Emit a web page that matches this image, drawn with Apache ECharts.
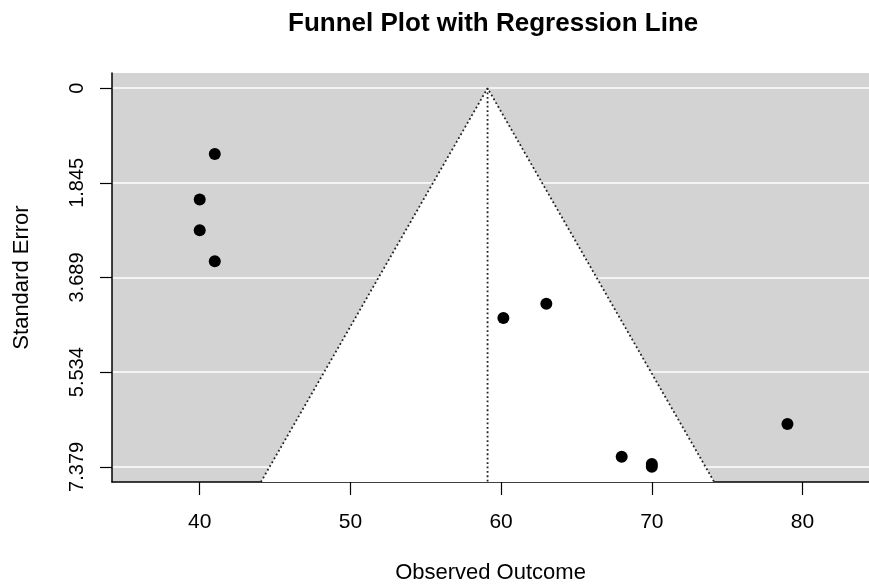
<!DOCTYPE html>
<html>
<head>
<meta charset="utf-8">
<title>Funnel Plot with Regression Line</title>
<script src="https://cdn.jsdelivr.net/npm/echarts@6/dist/echarts.min.js"></script>
<style>
  html, body { margin: 0; padding: 0; background: #fff; }
  #main { width: 869px; height: 588px; }
</style>
</head>
<body>
<div id="main"></div>
<script>
// observed outcomes and their standard errors
var yi  = [41, 40, 40, 41, 60.15, 63, 79, 68, 70, 70];
var sei = [1.283, 2.168, 2.768, 3.374, 4.48, 4.20, 6.544, 7.18, 7.325, 7.379];

// funnel: apex at the pooled estimate, edges at +/- 1.96 * se
var funnelX  = [44.06, 59.1, 74.14];
var funnelSE = [7.674, 0, 7.674];
var centerX  = [59.1, 59.1];
var centerSE = [0, 7.674];

// tick labels
var xTicks = [40, 50, 60, 70, 80];
var yTicks = [0, 1.845, 3.689, 5.534, 7.379];

var xMin = 34.18, xMax = 84.41;
var yMin = -0.295, yMax = 7.674;

var font = '"Liberation Sans", Arial, Helvetica, sans-serif';

var points = yi.map(function (v, i) { return [v, sei[i]]; });
var funnel = funnelX.map(function (v, i) { return [v, funnelSE[i]]; });
var center = centerX.map(function (v, i) { return [v, centerSE[i]]; });

var myChart = echarts.init(document.getElementById('main'));
myChart.setOption({
    animation: false,
    backgroundColor: '#ffffff',
    title: {
        text: 'Funnel Plot with Regression Line',
        left: 283,
        top: 6,
        textStyle: { fontFamily: font, fontSize: 26, fontWeight: 'bold', color: '#000' }
    },
    grid: {
        left: 112, right: 0, top: 73, bottom: 106,
        outerBoundsMode: 'none',
        containLabel: false,
        show: true, backgroundColor: '#d3d3d3', borderWidth: 0
    },
    xAxis: {
        type: 'value',
        min: xMin, max: xMax,
        name: 'Observed Outcome',
        nameLocation: 'middle',
        nameGap: 80,
        nameTextStyle: { fontFamily: font, fontSize: 22, color: '#000' },
        axisLine: { show: true, onZero: false, lineStyle: { color: '#000', width: 1.5 } },
        axisTick: { show: true, length: 13, customValues: xTicks, lineStyle: { color: '#000', width: 1.2 } },
        axisLabel: { customValues: xTicks, margin: 30, fontFamily: font, fontSize: 21, color: '#000' },
        splitLine: { show: false }
    },
    yAxis: {
        type: 'value',
        inverse: true,
        min: yMin, max: yMax,
        name: 'Standard Error',
        nameLocation: 'middle',
        nameGap: 79,
        nameRotate: 90,
        nameTextStyle: { fontFamily: font, fontSize: 22, color: '#000' },
        axisLine: { show: true, onZero: false, lineStyle: { color: '#000', width: 1.5 } },
        axisTick: { show: true, length: 12, customValues: yTicks, lineStyle: { color: '#000', width: 1.2 } },
        axisLabel: {
            customValues: yTicks, rotate: 90, margin: 25,
            fontFamily: font, fontSize: 20, color: '#000',
            formatter: function (v) { return String(v); }
        },
        splitLine: { show: true, lineStyle: { color: '#ffffff', width: 1.5 } }
    },
    series: [
        {
            type: 'custom',
            z: 1,
            silent: true,
            data: [0],
            renderItem: function (params, api) {
                var pts = funnel.map(function (p) { return api.coord(p); });
                return {
                    type: 'polygon',
                    shape: { points: pts },
                    style: { fill: '#ffffff', stroke: null }
                };
            }
        },
        {
            type: 'line',
            z: 2,
            data: funnel,
            symbol: 'none',
            silent: true,
            lineStyle: { color: '#222', width: 1.8, type: [1.8, 2.6] }
        },
        {
            type: 'line',
            z: 2,
            data: center,
            symbol: 'none',
            silent: true,
            lineStyle: { color: '#222', width: 1.8, type: [1.8, 2.6] }
        },
        {
            type: 'scatter',
            z: 3,
            data: points,
            symbol: 'circle',
            symbolSize: 12,
            itemStyle: { color: '#000', opacity: 1 }
        }
    ]
});
</script>
</body>
</html>
